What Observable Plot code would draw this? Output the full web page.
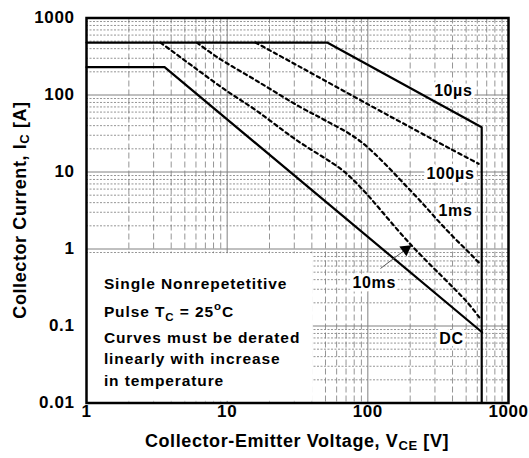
<!DOCTYPE html>
<html><head><meta charset="utf-8">
<script src="https://cdn.jsdelivr.net/npm/d3@7"></script>
<script src="https://cdn.jsdelivr.net/npm/@observablehq/plot@0.6"></script>
<style>
body{margin:0;background:#fff;}
#chart svg{font-family:"Liberation Sans",Arial,sans-serif;}
#chart svg text{letter-spacing:0.6px;}
</style></head><body><div id="chart"></div>
<script>
// tick values
const xTicks = [1, 10, 100, 1000];
const yTicks = [0.01, 0.1, 1, 10, 100, 1000];

// curves: collector-emitter voltage (V) and collector current (A)
const v10us = [1, 51.4, 645, 645];
const i10us = [480, 480, 38.2, 0.01];
const v100us = [15.9, 33.2, 104, 221, 386, 614];
const i100us = [480, 230, 73, 34.6, 20, 12.8];
const v1ms = [6.1, 8.5, 16.5, 33.2, 50, 88.6, 201, 366, 551, 614];
const i1ms = [480, 310, 150, 69.5, 46.7, 25, 5.75, 1.74, 0.82, 0.67];
const v10ms = [3.36, 5.8, 10, 15.9, 30.6, 65.7, 88.6, 201, 508, 631];
const i10ms = [480, 230, 112, 64, 26.5, 10.6, 6.35, 1.15, 0.204, 0.124];
const vDC = [1, 3.59, 649];
const iDC = [230, 230, 0.083];

// curve labels
const labelText = ["10\u00b5s", "100\u00b5s", "1ms", "10ms", "DC"];
const labelV = [405, 387, 420, 111, 393];
const labelI = [114, 9.55, 3.16, 0.367, 0.0689];

// arrow for the 10ms label
const arrowV = [123, 186];
const arrowI = [0.558, 0.99];

// note box
const noteBoxV = [1, 41];
const noteBoxI = [0.0105, 0.87];
const noteV = 1.34;
const noteI = [0.346, 0.15, 0.0689, 0.0367, 0.019];

const rows = (v, i) => v.map((x, k) => ({v: x, i: i[k]}));
const xMinor = d3.range(0, 3).flatMap(k => d3.range(2, 10).map(m => m * 10 ** k));
const yMinor = d3.range(-2, 3).flatMap(k => d3.range(2, 10).map(m => +(m * 10 ** k).toPrecision(3)));
const labels = labelText.map((t, k) => ({t, v: labelV[k], i: labelI[k]}));
const dashed = {x: "v", y: "i", stroke: "black", strokeWidth: 2.2, strokeDasharray: "3.5,3.5", curve: "catmull-rom"};

const chart = Plot.plot({
  width: 529, height: 458,
  marginLeft: 86, marginRight: 21, marginTop: 17.5, marginBottom: 55.5,
  x: {type: "log", domain: [1, 1000]},
  y: {type: "log", domain: [0.01, 1000]},
  marks: [
    Plot.ruleX(xMinor, {stroke: "#7a7a7a", strokeWidth: 0.8, strokeDasharray: "6,3"}),
    Plot.ruleY(yMinor, {stroke: "#7a7a7a", strokeWidth: 0.8, strokeDasharray: "2,1.5"}),
    Plot.ruleX(xTicks, {stroke: "#808080", strokeWidth: 1}),
    Plot.ruleY(yTicks, {stroke: "#808080", strokeWidth: 1}),
    Plot.rect([0], {x1: () => noteBoxV[0], x2: () => noteBoxV[1], y1: () => noteBoxI[0], y2: () => noteBoxI[1], fill: "white"}),
    Plot.line(rows(v10us, i10us), {x: "v", y: "i", stroke: "black", strokeWidth: 2.2}),
    Plot.line(rows(vDC, iDC), {x: "v", y: "i", stroke: "black", strokeWidth: 2.2}),
    Plot.line(rows(v100us, i100us), dashed),
    Plot.line(rows(v1ms, i1ms), dashed),
    Plot.line(rows(v10ms, i10ms), dashed),
    Plot.text(labels, {x: "v", y: "i", text: "t", fontSize: 16, fontWeight: "bold", fill: "black", stroke: "white", strokeWidth: 7}),
    Plot.link([0], {x1: () => arrowV[0], y1: () => arrowI[0], x2: () => arrowV[1], y2: () => arrowI[1], stroke: "#555", strokeWidth: 1}),
    Plot.dot([0], {x: () => arrowV[1], y: () => arrowI[1], symbol: "triangle", r: 4.5, fill: "black", rotate: 54}),
    Plot.frame({stroke: "black", strokeWidth: 2.5}),
    Plot.axisX({ticks: xTicks, tickFormat: d => String(d), tickSize: 0, tickPadding: 2, fontSize: 17, fontWeight: "bold", label: null}),
    Plot.axisY({ticks: yTicks, tickFormat: d => String(d), tickSize: 0, tickPadding: 12, fontSize: 17, fontWeight: "bold", label: null})
  ]
});
document.getElementById("chart").appendChild(chart);

const sx = chart.scale("x"), sy = chart.scale("y");
const svg = d3.select(chart);
const g = svg.append("g").attr("font-weight", "bold").attr("fill", "black");

// note text
const noteX = sx.apply(noteV);
const addLine = (k) => g.append("text").attr("x", noteX).attr("y", sy.apply(noteI[k])).attr("dy", "0.35em")
  .attr("text-anchor", "start").attr("font-size", 15.5).style("letter-spacing", "0.9px");
addLine(0).text("Single Nonrepetetitive");
const l2 = addLine(1);
l2.append("tspan").text("Pulse T");
l2.append("tspan").attr("font-size", 11.5).attr("dy", 4).text("C");
l2.append("tspan").attr("dy", -4).text(" = 25");
l2.append("tspan").attr("font-size", 11.5).attr("dy", -7).text("o");
l2.append("tspan").attr("dy", 7).text("C");
addLine(2).text("Curves must be derated");
addLine(3).text("linearly with increase");
addLine(4).text("in temperature");

// axis titles
const xr = sx.range, yr = sy.range;
const xt = g.append("text").attr("x", (xr[0] + xr[1]) / 2).attr("y", 441).attr("dy", "0.35em")
  .attr("text-anchor", "middle").attr("font-size", 18);
xt.append("tspan").text("Collector-Emitter Voltage, V");
xt.append("tspan").attr("font-size", 13).attr("dy", 3).text("CE");
xt.append("tspan").attr("dy", -3).text(" [V]");
const yt = g.append("text").attr("transform", `translate(20,${(yr[0] + yr[1]) / 2}) rotate(-90)`).attr("dy", "0.35em")
  .attr("text-anchor", "middle").attr("font-size", 18);
yt.append("tspan").text("Collector Current, I");
yt.append("tspan").attr("font-size", 13).attr("dy", 3).text("C");
yt.append("tspan").attr("dy", -3).text(" [A]");
</script></body></html>
